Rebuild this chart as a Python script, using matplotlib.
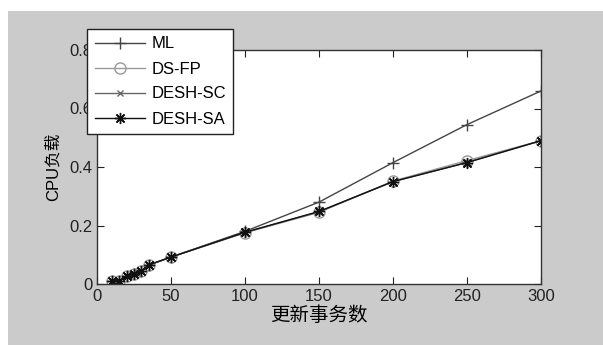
import matplotlib
matplotlib.use('Agg')
import matplotlib.pyplot as plt
from matplotlib.patches import Rectangle

plt.rcParams['font.family'] = ['Liberation Sans', 'Noto Sans CJK SC', 'DejaVu Sans']

x = [10, 15, 20, 25, 30, 35, 50, 100, 150, 200, 250, 300]
ml = [0.010, 0.011, 0.027, 0.033, 0.043, 0.065, 0.092, 0.180, 0.280, 0.415, 0.545, 0.660]
ds_fp = [0.010, 0.011, 0.027, 0.033, 0.043, 0.065, 0.092, 0.175, 0.245, 0.352, 0.422, 0.490]
desh_sc = [0.010, 0.011, 0.027, 0.033, 0.043, 0.065, 0.092, 0.176, 0.247, 0.350, 0.416, 0.490]
desh_sa = [0.010, 0.011, 0.027, 0.033, 0.043, 0.065, 0.092, 0.177, 0.248, 0.350, 0.415, 0.490]
labels = ['ML', 'DS-FP', 'DESH-SC', 'DESH-SA']

fig = plt.figure(figsize=(6.03, 3.45), dpi=100, facecolor='white')
fig.patches.append(Rectangle((8 / 603, 0), 1, 1 - 11 / 345, transform=fig.transFigure,
                             facecolor='#cbcbcb', edgecolor='none', zorder=-10))

ax = fig.add_axes([97 / 603, 1 - 284 / 345, 444 / 603, 234 / 345])
ax.set_facecolor('white')

ax.plot(x, ml, color='#444444', lw=1.0, marker='+', ms=9, mew=1.0, label=labels[0])
ax.plot(x, ds_fp, color='#999999', lw=1.0, marker='o', ms=8, mfc='none', mew=1.0, label=labels[1])
ax.plot(x, desh_sc, color='#666666', lw=1.0, marker='x', ms=5, mew=1.0, label=labels[2])
ax.plot(x, desh_sa, color='#111111', lw=1.0, marker=(8, 2, 0), ms=8, mew=1.0, label=labels[3])

ax.set_xlim(0, 300)
ax.set_ylim(0, 0.8)
ax.set_xticks([0, 50, 100, 150, 200, 250, 300])
ax.set_yticks([0, 0.2, 0.4, 0.6, 0.8])
ax.set_yticklabels(['0', '0.2', '0.4', '0.6', '0.8'])
ax.tick_params(direction='in', top=True, right=True, length=5, labelsize=12, colors='#222222')
for s in ax.spines.values():
    s.set_color('#333333')
    s.set_linewidth(1.0)

ax.set_xlabel('更新事务数', fontsize=14, labelpad=2)
ax.set_ylabel('CPU负载', fontsize=12, labelpad=6)

leg = ax.legend(loc='upper left', bbox_to_anchor=(87 / 603, 1 - 29 / 345),
                bbox_transform=fig.transFigure, fontsize=12, frameon=True,
                fancybox=False, borderaxespad=0, handlelength=3.0,
                labelspacing=0.6, borderpad=0.45, handletextpad=0.4)
leg.get_frame().set_edgecolor('#222222')
leg.get_frame().set_linewidth(1.0)
leg.get_frame().set_alpha(1)

fig.savefig('out.png', dpi=100, facecolor=fig.get_facecolor())
